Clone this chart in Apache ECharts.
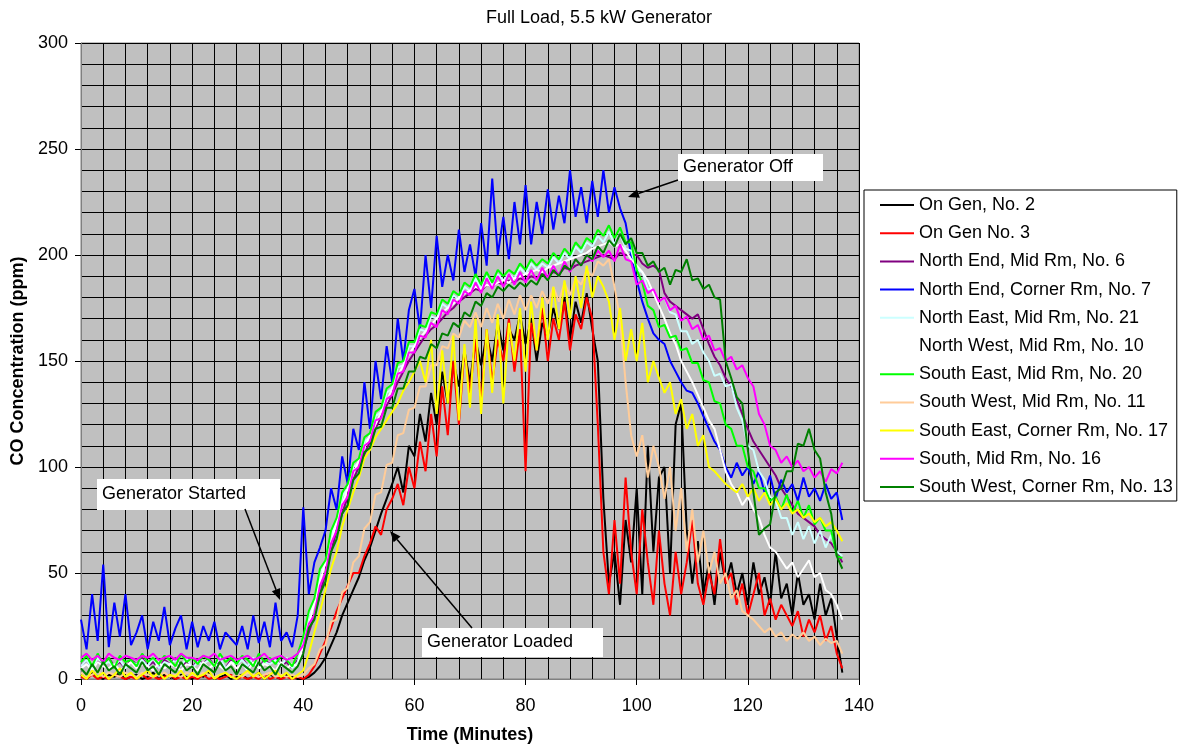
<!DOCTYPE html>
<html><head><meta charset="utf-8">
<script src="https://cdn.jsdelivr.net/npm/echarts@6/dist/echarts.min.js"></script>
<style>html,body{margin:0;padding:0;background:#fff}#c{width:1180px;height:747px}</style>
</head><body><div id="c"></div>
<script>
// ---- data (CO ppm, one value per minute, t = 0..137) ----
const seriesNames = [
  'On Gen, No. 2','On Gen No. 3','North End, Mid Rm, No. 6','North End, Corner Rm, No. 7',
  'North East, Mid Rm, No. 21','North West, Mid Rm, No. 10','South East, Mid Rm, No. 20',
  'South West, Mid Rm, No. 11','South East, Corner Rm, No. 17','South, Mid Rm, No. 16',
  'South West, Corner Rm, No. 13'
];
const seriesColors = ['#000000','#ff0000','#800080','#0000ff','#ccffff','#ffffff','#00ff00','#ffcc99','#ffff00','#ff00ff','#008000'];
const xTicks = [0,20,40,60,80,100,120,140];
const yTicks = [0,50,100,150,200,250,300];

const gen2 = [2,0,3,1,0,2,1,3,0,1, 2,0,1,3,0,2,1,0,2,1, 0,2,1,3,0,1,2,0,1,2, 0,1,3,0,2,1,0,2,1,0,
  0,1,3,6,10,16,22,30,36,42, 48,56,62,70,78,85,92,100,88,110, 105,125,112,135,120,145,130,150,138,155,
  140,160,148,162,150,168,155,165,160,172, 158,170,150,168,162,175,165,180,160,178, 168,182,165,150,85,45,60,35,75,55,
  90,40,110,60,95,100,50,120,130,70, 45,65,40,55,35,60,45,55,40,50, 35,55,40,48,35,60,38,45,30,50, 35,40,28,45,30,38,20,3];
const gen3 = [1,0,2,0,1,0,2,1,0,1, 0,2,0,1,0,1,2,0,1,0, 1,0,2,0,1,0,1,2,0,1, 0,1,0,2,0,1,0,1,0,1,
  0,2,6,12,18,24,32,38,44,50, 50,58,64,72,68,80,85,92,82,100, 90,112,98,125,105,138,115,150,120,155,
  135,160,130,165,140,160,150,170,145,165, 98,168,155,175,150,170,160,178,155,172, 165,180,170,120,60,40,75,45,95,60,
  40,80,55,35,70,45,30,60,40,55, 75,45,35,50,40,66,45,50,35,45, 30,40,50,30,38,28,35,30,25,32, 20,28,22,30,18,25,12,5];
const ne6 = [6,9,5,8,7,10,6,8,5,9, 7,10,6,8,5,9,7,10,6,8, 5,9,7,10,6,8,5,9,7,10, 6,8,5,9,7,10,6,8,5,9,
  14,22,30,40,50,60,70,78,86,94, 100,106,112,118,124,129,134,140,145,150, 154,158,162,165,167,170,173,175,178,180,
  182,184,183,186,185,187,186,188,187,189, 188,190,189,191,190,192,191,194,193,195, 196,197,198,199,200,199,198,201,200,200,
  200,196,194,195,193,182,178,176,174,172, 170,172,165,158,152,148,142,138,132,125, 118,112,108,104,100,96,90,86,82,78, 76,74,72,68,66,64,60,55];
const nc7 = [28,14,40,18,54,15,36,20,40,16, 22,30,14,27,18,34,16,24,30,14, 27,15,25,18,27,14,22,19,16,25, 14,30,17,27,15,36,18,22,15,30,
  81,40,55,62,70,90,80,105,92,118, 108,140,118,150,132,157,140,170,150,174, 184,165,200,175,209,185,200,188,212,192,
  205,190,215,195,236,200,218,198,225,205, 233,205,225,210,231,212,228,215,240,218, 232,215,235,218,240,220,232,222,215,200,
  188,178,170,163,160,158,150,145,140,136, 135,130,124,118,112,108,100,95,102,96, 100,92,98,88,96,85,94,88,92,84, 95,86,90,84,92,85,88,75];
const ne21 = [6,9,5,10,7,8,6,9,5,8, 7,9,6,10,5,8,7,9,6,10, 5,8,7,9,6,10,5,8,7,9, 6,10,5,8,7,9,6,10,5,8,
  18,30,36,50,54,68,74,86,90,100, 102,112,114,124,126,135,137,147,148,157, 157,165,164,171,170,177,175,181,179,185,
  183,189,184,190,185,191,188,191,189,194, 191,196,193,196,194,199,196,201,198,204, 201,206,204,209,206,211,205,210,203,202,
  193,192,184,184,178,180,173,172,164,164, 158,160,154,150,143,144,138,139,128,122, 110,108,98,94,86,84,76,76,68,74, 66,72,64,70,62,68,60,58];
const nw10 = [5,7,4,8,6,5,7,4,6,8, 5,7,6,4,8,5,7,6,4,7, 6,4,8,5,7,6,4,8,5,7, 4,8,5,7,6,4,8,5,7,6,
  16,26,36,46,55,64,74,82,90,97, 103,109,115,120,126,131,137,143,148,153, 157,161,164,167,170,173,175,177,180,182,
  183,185,184,186,185,187,188,187,189,190, 191,192,193,192,194,195,196,197,198,199, 200,201,203,204,205,206,204,205,202,198,
  195,192,188,182,176,170,163,158,150,145, 140,134,128,122,118,108,98,92,88,82, 86,80,76,68,62,60,56,52,55,48, 52,56,48,50,42,40,35,28];
const se20 = [8,11,6,12,7,10,5,11,8,9, 6,12,8,10,7,11,9,6,12,8, 10,7,11,9,6,12,8,10,7,11, 9,6,12,8,10,7,11,9,6,12,
  20,32,38,52,56,70,76,88,92,102, 104,114,116,126,128,137,139,149,150,159, 159,167,166,173,172,179,177,183,181,187,
  185,191,186,192,187,193,190,193,191,196, 193,198,195,198,196,201,198,203,200,206, 203,208,206,212,209,214,208,213,206,206,
  193,187,176,174,166,167,161,162,155,156, 149,149,141,140,131,130,120,118,110,110, 100,98,90,90,84,86,80,87,78,84, 76,82,73,76,70,70,58,57];
const sw11 = [3,1,2,4,1,3,2,1,3,2, 1,3,2,1,2,3,1,2,1,3, 2,1,3,2,1,2,3,1,2,1, 3,2,1,2,3,1,2,1,2,1,
  2,5,7,14,16,27,28,41,43,55, 58,71,74,87,88,101,102,115,116,127, 128,138,138,148,148,157,156,163,161,169,
  166,173,166,175,168,177,170,179,172,181, 174,181,175,183,177,185,178,187,181,189, 186,193,190,197,195,198,185,170,140,115,
  105,115,95,110,100,85,100,70,90,60, 80,55,70,50,60,45,50,38,42,32, 30,28,25,22,24,20,22,18,21,19, 22,18,20,16,19,17,18,12];
const sec17 = [2,0,4,1,3,0,2,5,1,3, 0,2,4,1,3,0,2,1,4,0, 3,1,2,4,0,2,3,1,0,2, 4,1,3,0,2,4,1,3,0,2,
  4,12,22,32,42,52,60,72,80,88, 95,104,108,114,118,122,126,130,136,140, 145,150,140,160,125,155,130,162,122,158,
  128,170,125,165,135,172,130,168,150,175, 145,178,155,180,160,185,165,188,170,190, 175,195,180,190,185,178,160,175,150,165,
  150,168,140,150,142,135,140,125,132,118, 125,110,115,100,98,95,92,90,88,92, 86,90,84,88,82,85,80,83,78,80, 76,78,74,76,72,74,70,65];
const s16 = [10,12,9,11,8,12,10,9,11,10, 9,11,10,12,9,10,11,9,12,10, 10,9,11,10,12,9,10,11,9,10, 11,9,10,12,9,10,11,9,10,12,
  16,26,30,44,50,64,70,82,86,98, 100,110,112,122,123,132,134,144,145,154, 154,162,161,168,166,174,172,179,177,183,
  181,187,182,189,184,190,185,191,186,192, 187,193,188,194,189,195,190,197,192,198, 195,200,197,202,199,202,197,205,198,197,
  186,188,182,184,178,180,174,176,169,171, 165,167,160,162,155,156,150,152,146,148, 142,138,125,120,110,108,102,105,100,103, 98,100,95,98,93,99,97,102];
const swc13 = [5,2,7,3,8,4,6,2,7,5, 3,8,4,6,2,7,5,3,8,4, 6,2,7,5,3,8,4,6,2,7, 5,3,8,4,6,2,7,5,3,6,
  12,24,28,40,46,60,66,78,82,94, 97,107,109,118,119,128,128,137,137,145, 145,152,151,158,156,163,162,168,166,173,
  171,178,176,182,180,185,183,186,184,187, 185,188,186,191,188,193,190,195,193,198, 195,200,198,204,201,207,204,210,205,208,
  201,201,195,197,192,194,186,193,192,198, 188,189,184,186,180,179,150,142,133,130, 108,88,68,71,73,88,90,98,98,111, 110,118,108,104,88,78,58,52];

const seriesValues = [gen2, gen3, ne6, nc7, ne21, nw10, se20, sw11, sec17, s16, swc13];

// ---- chart ----
const FONT = "'Liberation Sans', Arial, sans-serif";
const FS = 18;
const chart = echarts.init(document.getElementById('c'), null, {renderer: 'canvas'});

function arrow(x1, y1, x2, y2) {
  const a = Math.atan2(y2 - y1, x2 - x1), L = 11, W = 4.5;
  const bx = x2 - L * Math.cos(a), by = y2 - L * Math.sin(a);
  const px = -Math.sin(a) * W, py = Math.cos(a) * W;
  return [
    {type: 'line', z: 100, shape: {x1: x1, y1: y1, x2: bx, y2: by}, style: {stroke: '#000', lineWidth: 1.5}},
    {type: 'polygon', z: 100, shape: {points: [[x2, y2], [bx + px, by + py], [bx - px, by - py]]}, style: {fill: '#000'}}
  ];
}
function note(x, y, w, h, text) {
  return [
    {type: 'rect', z: 100, shape: {x: x, y: y, width: w, height: h}, style: {fill: '#fff'}},
    {type: 'text', z: 101, style: {x: x + 5, y: y + h / 2, text: text, font: FS + 'px ' + FONT, fill: '#000', verticalAlign: 'middle'}}
  ];
}

const graphics = [].concat(
  note(97, 479, 183, 31, 'Generator Started'), arrow(245, 509, 280, 600),
  note(422, 628, 181, 29, 'Generator Loaded'), arrow(472, 628, 390, 531),
  note(678, 154, 145, 27, 'Generator Off'), arrow(678, 180, 628, 197)
);

const option = {
  animation: false,
  backgroundColor: '#fff',
  textStyle: {fontFamily: FONT},
  title: {text: 'Full Load, 5.5 kW Generator', left: 481, top: 4,
    textStyle: {fontFamily: FONT, fontSize: FS, fontWeight: 'normal', color: '#000'}},
  grid: {left: 81, top: 43, width: 778, height: 636, outerBoundsMode: 'none', containLabel: false,
    show: true, backgroundColor: '#c0c0c0', borderColor: '#808080', borderWidth: 1},
  legend: {
    orient: 'vertical', left: 864, top: 190, padding: [5, 4, 4, 16], itemGap: 8.2,
    itemWidth: 34, itemHeight: 2, icon: 'rect', backgroundColor: '#fff', borderColor: '#000', borderWidth: 1,
    textStyle: {fontFamily: FONT, fontSize: FS, lineHeight: 20, color: '#000'},
    data: seriesNames
  },
  xAxis: [
    {type: 'value', min: xTicks[0], max: xTicks[xTicks.length - 1], interval: xTicks[1] - xTicks[0],
      name: 'Time (Minutes)', nameLocation: 'middle', nameGap: 47,
      nameTextStyle: {fontFamily: FONT, fontSize: FS, fontWeight: 'bold', color: '#000'},
      axisLine: {lineStyle: {color: '#808080'}}, axisTick: {length: 6, lineStyle: {color: '#000'}},
      axisLabel: {fontFamily: FONT, fontSize: FS, color: '#000', margin: 18}, splitLine: {show: false}},
    {type: 'value', min: 0, max: 140, interval: 4, position: 'top', axisLine: {show: false}, axisTick: {show: false},
      axisLabel: {show: false}, splitLine: {show: true, lineStyle: {color: '#000', width: 1}}}
  ],
  yAxis: [
    {type: 'value', min: yTicks[0], max: yTicks[yTicks.length - 1], interval: yTicks[1] - yTicks[0],
      name: 'CO Concentration (ppm)', nameLocation: 'middle', nameGap: 54, nameRotate: 90,
      nameTextStyle: {fontFamily: FONT, fontSize: FS, fontWeight: 'bold', color: '#000'},
      axisLine: {show: true, lineStyle: {color: '#808080'}}, axisTick: {show: true, length: 6, lineStyle: {color: '#000'}},
      axisLabel: {fontFamily: FONT, fontSize: FS, color: '#000', margin: 13}, splitLine: {show: false}},
    {type: 'value', min: 0, max: 300, interval: 10, position: 'left', axisLine: {show: false}, axisTick: {show: false},
      axisLabel: {show: false}, splitLine: {show: true, lineStyle: {color: '#000', width: 1}}}
  ],
  series: seriesNames.map(function (n, k) {
    return {
      name: n, type: 'line', xAxisIndex: 0, yAxisIndex: 0, showSymbol: false, symbol: 'none',
      color: seriesColors[k], lineStyle: {width: 2, color: seriesColors[k]},
      data: seriesValues[k].map(function (v, i) { return [i, v]; })
    };
  }),
  graphic: graphics
};
chart.setOption(option);
</script>
</body></html>
